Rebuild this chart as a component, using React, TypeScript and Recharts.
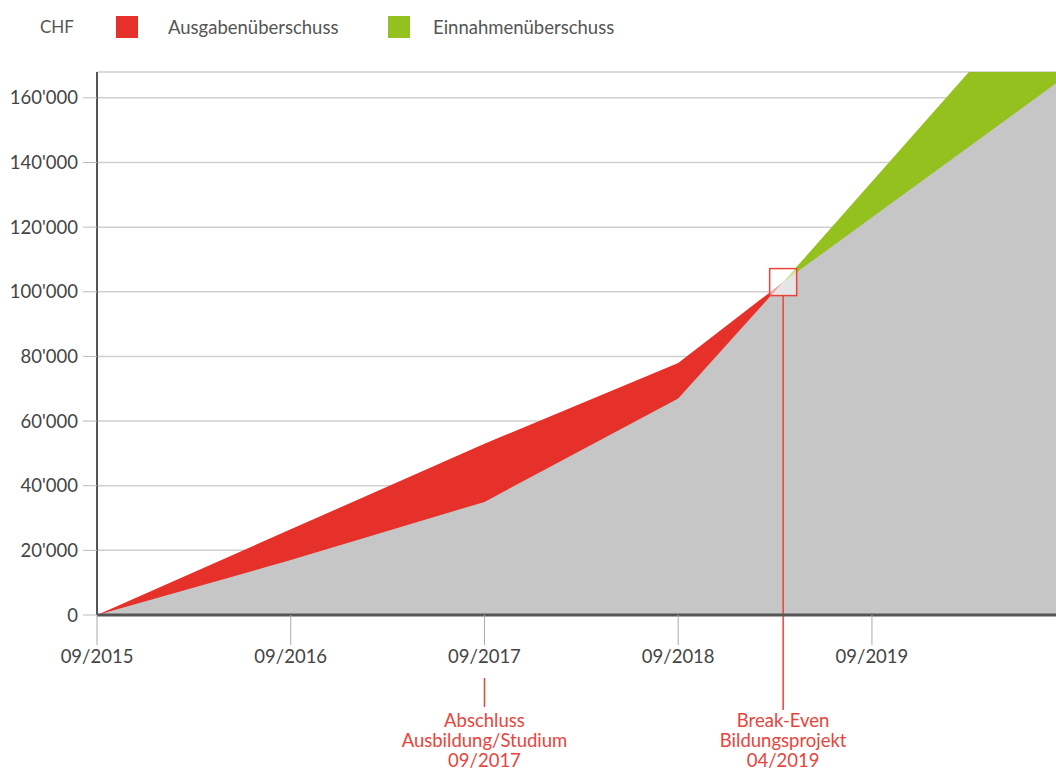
import React from 'react';
import {
  AreaChart,
  Area,
  XAxis,
  YAxis,
  CartesianGrid,
  ReferenceLine,
  ReferenceDot,
} from 'recharts';

// months since 09/2015
const months = [0, 12, 24, 36, 42.5, 59.4];
// cumulative totals in CHF
const upperLine = [0, 26500, 53000, 78000, 103000, 198500];
const lowerLine = [0, 17000, 35000, 67000, 103000, 164500];
const breakEvenMonth = 42.5;
const breakEvenValue = 103000;

const xTicks = [0, 12, 24, 36, 48];
const xTickLabels = ['09/2015', '09/2016', '09/2017', '09/2018', '09/2019'];
const yTicks = [0, 20000, 40000, 60000, 80000, 100000, 120000, 140000, 160000];

const RED = '#e5312a';
const GREEN = '#95c11f';
const GREY = '#c6c6c6';
const NOTE = '#e8443b';
const FONT = 'Lato, "Open Sans", sans-serif';

const data = months.map((m, i) => ({
  m,
  red: m <= breakEvenMonth ? upperLine[i] : null,
  green: m >= breakEvenMonth ? upperLine[i] : null,
  grey: lowerLine[i],
}));

const fmtY = (v: number) => (v === 0 ? '0' : `${v / 1000}'000`);
const fmtX = (v: number) => xTickLabels[xTicks.indexOf(v)] ?? '';

const noteText = (x: number, lines: string[]) =>
  lines.map((t, i) => (
    <text
      key={i}
      x={x}
      y={727 + i * 20}
      textAnchor="middle"
      fill={NOTE}
      fontSize={18.5}
      fontFamily={FONT}
    >
      {t}
    </text>
  ));

const StudyNote = (props: any) => {
  const x = props.x1;
  return (
    <g>
      <line x1={x} x2={x} y1={678} y2={707} stroke={NOTE} strokeWidth={1.5} />
      {noteText(x, ['Abschluss', 'Ausbildung/Studium', '09/2017'])}
    </g>
  );
};

const BreakEvenNote = (props: any) => {
  const x = props.x1;
  return (
    <g>
      <line x1={x} x2={x} y1={296} y2={710} stroke={NOTE} strokeWidth={1.5} />
      {noteText(x, ['Break-Even', 'Bildungsprojekt', '04/2019'])}
    </g>
  );
};

const BreakEvenBox = (props: any) => (
  <rect
    x={props.cx - 13.5}
    y={props.cy - 13.5}
    width={27}
    height={27}
    fill="#ffffff"
    fillOpacity={0.55}
    stroke={NOTE}
    strokeWidth={1.5}
  />
);

const legendSwatch = (color: string): React.CSSProperties => ({
  position: 'absolute',
  top: 16,
  width: 22,
  height: 22,
  background: color,
});

const legendText: React.CSSProperties = {
  position: 'absolute',
  top: 16,
  fontSize: 18.5,
  color: '#555',
  lineHeight: '22px',
};

export default function App() {
  return (
    <div
      style={{
        position: 'absolute',
        left: 0,
        top: 0,
        width: 1056,
        height: 773,
        background: '#fff',
        fontFamily: FONT,
        overflow: 'hidden',
      }}
    >
      <div style={{ ...legendText, left: 40, fontSize: 17 }}>CHF</div>
      <div style={{ ...legendSwatch(RED), left: 116 }} />
      <div style={{ ...legendText, left: 168 }}>Ausgabenüberschuss</div>
      <div style={{ ...legendSwatch(GREEN), left: 388 }} />
      <div style={{ ...legendText, left: 433 }}>Einnahmenüberschuss</div>

      <AreaChart
        width={1056}
        height={773}
        data={data}
        margin={{ top: 72, right: 0, bottom: 118, left: 0 }}
      >
        <CartesianGrid vertical={false} stroke="#cfcfcf" strokeWidth={1.5} />
        <Area
          type="linear"
          dataKey="red"
          stroke="none"
          fill={RED}
          fillOpacity={1}
          isAnimationActive={false}
        />
        <Area
          type="linear"
          dataKey="green"
          stroke="none"
          fill={GREEN}
          fillOpacity={1}
          isAnimationActive={false}
        />
        <Area
          type="linear"
          dataKey="grey"
          stroke="none"
          fill={GREY}
          fillOpacity={1}
          isAnimationActive={false}
        />
        <XAxis
          dataKey="m"
          type="number"
          domain={[0, 59.4]}
          ticks={xTicks}
          tickFormatter={fmtX}
          height={40}
          tickSize={30}
          tickMargin={5}
          axisLine={{ stroke: '#555', strokeWidth: 3 }}
          tickLine={{ stroke: '#aaa', strokeWidth: 1 }}
          tick={{ fill: '#444', fontSize: 18.5, fontFamily: FONT }}
        />
        <YAxis
          type="number"
          domain={[0, 168000]}
          allowDataOverflow
          ticks={yTicks}
          tickFormatter={fmtY}
          width={97}
          tickSize={14}
          tickMargin={5}
          axisLine={{ stroke: '#555', strokeWidth: 2 }}
          tickLine={{ stroke: '#bbb', strokeWidth: 1 }}
          tick={{ fill: '#444', fontSize: 18.5, fontFamily: FONT }}
        />
        <ReferenceLine x={24} stroke={NOTE} shape={StudyNote} />
        <ReferenceLine x={breakEvenMonth} stroke={NOTE} shape={BreakEvenNote} />
        <ReferenceDot
          x={breakEvenMonth}
          y={breakEvenValue}
          r={13}
          shape={BreakEvenBox}
        />
      </AreaChart>
    </div>
  );
}
